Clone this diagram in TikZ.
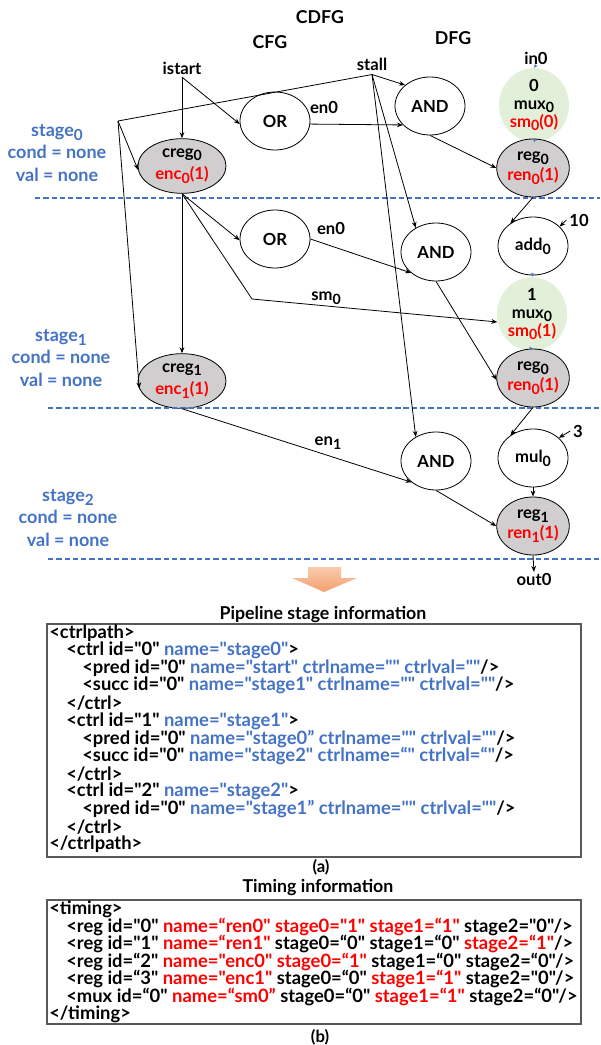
\documentclass[tikz,border=0pt]{standalone}
\usepackage{fontspec}
\usepackage{graphicx}
\setmainfont{Lato}[UprightFont={* Bold}, BoldFont={* Bold}, Ligatures=TeXOff]
\usetikzlibrary{shapes.geometric,arrows.meta}

\definecolor{stblue}{HTML}{4472C4}
\definecolor{regray}{HTML}{D0CECE}
\definecolor{muxgreen}{HTML}{E2F0D9}
\definecolor{orlight}{HTML}{F8CBAD}
\definecolor{ordark}{HTML}{F4A06E}
\definecolor{boxgray}{HTML}{595959}

% lowered index, as in creg_0
\newcommand{\dn}[1]{\raisebox{-0.45ex}{\scalebox{0.85}{#1}}}
\newcommand{\xb}[1]{\textcolor{stblue}{#1}}
\newcommand{\xr}[1]{\textcolor{red}{#1}}

\tikzset{
  txt/.style={font=\fontsize{12.5}{14}\selectfont, inner sep=2pt},
  ttl/.style={font=\fontsize{13.3}{15}\selectfont, inner sep=2pt},
  op/.style={ellipse, draw, line width=0.6pt, minimum width=52.5pt, minimum height=43.5pt,
    inner sep=0pt, align=center, font=\fontsize{12.5}{15}\selectfont},
  cregnode/.style={op, fill=regray, minimum width=66pt, minimum height=41pt,
    font=\fontsize{12.5}{17}\selectfont},
  regnode/.style={op, fill=regray},
  muxnode/.style={op, draw=none, fill=muxgreen, minimum height=45pt,
    font=\fontsize{12.5}{13.5}\selectfont},
  wire/.style={line width=0.6pt, -{Stealth[length=4.5pt,width=3.5pt]}},
  plain/.style={line width=0.6pt},
  bwire/.style={stblue, line width=0.6pt, -{Stealth[length=3pt,width=2.6pt]}},
  stageline/.style={stblue, line width=1.1pt, dash pattern=on 4pt off 2.2pt},
  stagetxt/.style={text=stblue, align=center, font=\fontsize{13.5}{17}\selectfont},
  xml/.style={anchor=west, inner sep=0pt, font=\fontsize{13.8}{14}\selectfont},
  xbox/.style={draw=boxgray, line width=0.8pt},
}

\begin{document}
\begin{tikzpicture}[x=0.75pt,y=-0.75pt]
\path[use as bounding box] (0,0) rectangle (600,1045);

% headings
\node[ttl] (cdfg) at (320,17) {CDFG};
\node[ttl] (cfg) at (270,42) {CFG};
\node[ttl] (dfg) at (453,38) {DFG};

% inputs
\node[txt] (istart) at (182,68) {istart};
\node[txt, inner sep=3pt] (stall) at (372,64) {stall};
\node[txt, inner sep=0.5pt] (in0) at (536,58) {in0};

% stage 0
\node[op] (or0) at (275,121) {OR};
\node[cregnode] (creg0) at (182,166) {creg\dn{0}\\\xr{enc\dn{0}(1)}};
\node[op] (and0) at (430,106) {AND};
\node[muxnode] (mux0) at (534,105) {0\\mux\dn{0}\\\xr{sm\dn{0}(0)}};
\node[regnode] (reg0) at (533,168) {reg\dn{0}\\\xr{ren\dn{0}(1)}};

% stage 1
\node[op] (or1) at (275,239) {OR};
\node[op] (and1) at (436,252) {AND};
\node[op] (add0) at (533,246) {add\dn{0}};
\node[muxnode] (mux1) at (532,314) {1\\mux\dn{0}\\\xr{sm\dn{0}(1)}};
\node[regnode] (reg0b) at (533,378) {reg\dn{0}\\\xr{ren\dn{0}(1)}};
\node[cregnode] (creg1) at (182,381) {creg\dn{1}\\\xr{enc\dn{1}(1)}};

% stage 2
\node[op] (and2) at (436,461) {AND};
\node[op] (mul0) at (533,458) {mul\dn{0}};
\node[regnode] (reg1) at (533,526) {reg\dn{1}\\\xr{ren\dn{1}(1)}};
\node[txt, inner sep=0.5pt] (out0) at (534,579) {out0};

% constants and edge labels
\node[txt] (l10) at (579,220) {10};
\node[txt] (l3) at (578,431) {3};
\node[txt] (en0a) at (324,107) {en0};
\node[txt] (en0b) at (331,228) {en0};
\node[txt] (sm0) at (326,298) {sm\dn{0}};
\node[txt] (en1) at (328,443) {en\dn{1}};

% stage texts
\node[stagetxt] (st0) at (57,153) {stage\dn{0}\\cond = none\\val = none};
\node[stagetxt] (st1) at (61,358) {stage\dn{1}\\cond = none\\val = none};
\node[stagetxt] (st2) at (68,518) {stage\dn{2}\\cond = none\\val = none};

% stage boundaries
\draw[stageline] (35,198) -- (600,198);
\draw[stageline] (48,408) -- (600,408);
\draw[stageline] (48,559) -- (600,559);

% control edges
\coordinate (j0) at (118,121);
\coordinate (k1) at (252,299);
\draw[wire] (istart.south) -- (creg0.north);
\draw[wire] (istart.south) -- (or0.185);
\draw[plain] (stall.south) -- (j0);
\draw[wire] (j0) -- (creg0.185);
\draw[wire] (j0) -- (creg1.190);
\draw[wire] (stall.south) -- (and0.140);
\draw[wire] (stall.south) -- (and1.130);
\draw[wire] (stall.south) -- (and2.130);
\draw[wire] (or0.355) -- (and0.215);
\draw[wire] (and0.south) -- (reg0.180);
\draw[wire] (creg0.south) -- (creg1.north);
\draw[wire] (creg0.south) -- (or1.182);
\draw[wire] (creg0.south) -- (k1) -- (mux1.193);
\draw[wire] (or1.east) -- (and1.220);
\draw[wire] (and1.south) -- (reg0b.183);
\draw[wire] (creg1.south) -- (and2.221);
\draw[wire] (and2.south) -- (reg1.180);

% data edges
\draw[bwire] (in0.south) -- (mux0.north);
\draw[bwire] ([yshift=2pt]mux0.south) -- (reg0.north);
\draw[wire] (reg0.south) -- (add0.135);
\draw[wire] (l10.west) -- (add0.36);
\draw[bwire] ([yshift=2pt]add0.south) -- (mux1.north);
\draw[bwire] ([yshift=2pt]mux1.south) -- (reg0b.north);
\draw[wire] (reg0b.south) -- (mul0.135);
\draw[wire] (l3.west) -- (mul0.38);
\draw[wire] (mul0.south) -- (reg1.north);
\draw[wire] (reg1.south) -- (out0.north);

% down arrow
\shade[top color=orlight, bottom color=ordark]
  (308,567) -- (341,567) -- (341,578) -- (357,578) -- (324,592) -- (292,578) -- (308,578) -- cycle;

% (a) pipeline stage information
\node[ttl] (tita) at (323,615) {Pipeline stage information};
\draw[xbox] (47,624) rectangle (581,857);
\node[xml] (a1) at (49,633) {<ctrlpath>};
\node[xml] (a2) at (66,650.6) {<ctrl id="0" \xb{name="stage0"}>};
\node[xml] (a3) at (82,668.2) {<pred id="0" \xb{name="start" ctrlname="" ctrlval=""}/>};
\node[xml] (a4) at (82,685.8) {<succ id="0" \xb{name="stage1" ctrlname="" ctrlval=""}/>};
\node[xml] (a5) at (66,703.4) {</ctrl>};
\node[xml] (a6) at (66,721) {<ctrl id="1" \xb{name="stage1"}>};
\node[xml] (a7) at (82,738.6) {<pred id="0" \xb{name="stage0” ctrlname="" ctrlval=""}/>};
\node[xml] (a8) at (82,756.2) {<succ id="0" \xb{name="stage2" ctrlname=“" ctrlval=“"}/>};
\node[xml] (a9) at (66,773.8) {</ctrl>};
\node[xml] (a10) at (66,791.4) {<ctrl id="2" \xb{name="stage2"}>};
\node[xml] (a11) at (82,809) {<pred id="0" \xb{name="stage1” ctrlname="" ctrlval=""}/>};
\node[xml] (a12) at (66,826.6) {</ctrl>};
\node[xml] (a13) at (49,844.2) {</ctrlpath>};
\node[txt] (capa) at (321,867) {(a)};

% (b) timing information
\node[ttl] (titb) at (318,887) {Timing information};
\draw[xbox] (47,900) rectangle (581,1024);
\node[xml] (b1) at (49,909) {<timing>};
\node[xml] (b2) at (66,926.6) {<reg id="0" \xr{name=“ren0" stage0="1" stage1=“1"} stage2="0"/>};
\node[xml] (b3) at (66,944.2) {<reg id="1" \xr{name=“ren1"} stage0=“0" stage1=“0" \xr{stage2=“1"}/>};
\node[xml] (b4) at (66,961.8) {<reg id=“2" \xr{name="enc0" stage0=“1"} stage1=“0" stage2=“0"/>};
\node[xml] (b5) at (66,979.4) {<reg id=“3" \xr{name="enc1"} stage0=“0" \xr{stage1=“1"} stage2="0"/>};
\node[xml] (b6) at (66,997) {<mux id=“0" \xr{name=“sm0”} stage0=“0" \xr{stage1=“1"} stage2=“0"/>};
\node[xml] (b7) at (49,1014.6) {</timing>};
\node[txt] (capb) at (320,1037) {(b)};
\end{tikzpicture}
\end{document}
